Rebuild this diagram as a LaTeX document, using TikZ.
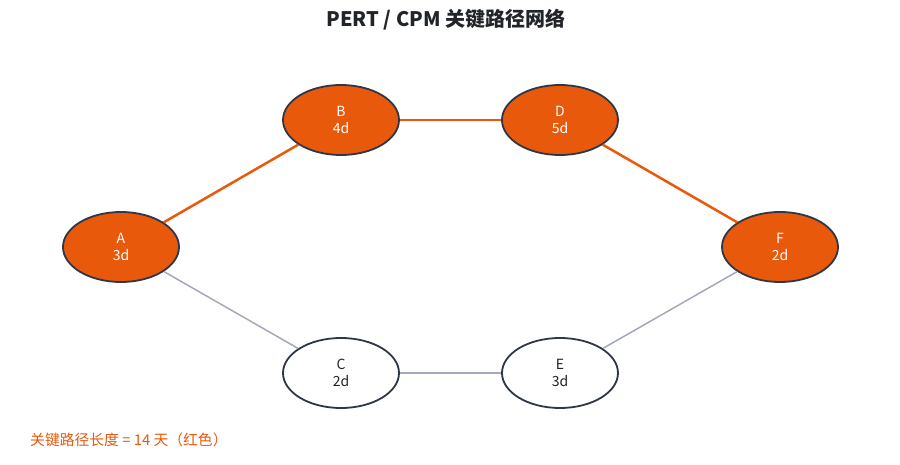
\documentclass[tikz,border=0pt]{standalone}
\usepackage{fontspec}
\setmainfont{Noto Sans CJK SC}
\usetikzlibrary{shapes.geometric}
\definecolor{crit}{HTML}{E8590C}
\definecolor{rim}{HTML}{2D3748}
\definecolor{grayedge}{HTML}{A3A9B8}
\definecolor{txt}{HTML}{212529}
\tikzset{
  task/.style={ellipse, draw=rim, line width=1.8pt, minimum width=116pt, minimum height=70pt, inner sep=0pt, align=center, font=\fontsize{14}{17}\selectfont},
  crittask/.style={task, fill=crit, text=white},
  normtask/.style={task, fill=white, text=txt},
  critedge/.style={draw=crit, line width=2.5pt},
  normedge/.style={draw=grayedge, line width=1.5pt},
}
\begin{document}
\begin{tikzpicture}[x=1pt,y=-1pt]
\useasboundingbox (0,0) rectangle (900,465);
\node[font=\fontsize{20}{24}\selectfont\bfseries, text=txt] (title) at (446,20) {PERT / CPM 关键路径网络};
\node[crittask] (A) at (121,247) {A\\3d};
\node[crittask] (B) at (341,120) {B\\4d};
\node[crittask] (D) at (560,120) {D\\5d};
\node[crittask] (F) at (780,247) {F\\2d};
\node[normtask] (C) at (341,373) {C\\2d};
\node[normtask] (E) at (560,373) {E\\3d};
\draw[critedge] (A) -- (B);
\draw[critedge] (B) -- (D);
\draw[critedge] (D) -- (F);
\draw[normedge] (A) -- (C);
\draw[normedge] (C) -- (E);
\draw[normedge] (E) -- (F);
\node[anchor=west, inner sep=0pt, text=crit, font=\fontsize{14.8}{17}\selectfont] (note) at (30,440) {关键路径长度 = 14 天（红色）};
\end{tikzpicture}
\end{document}
